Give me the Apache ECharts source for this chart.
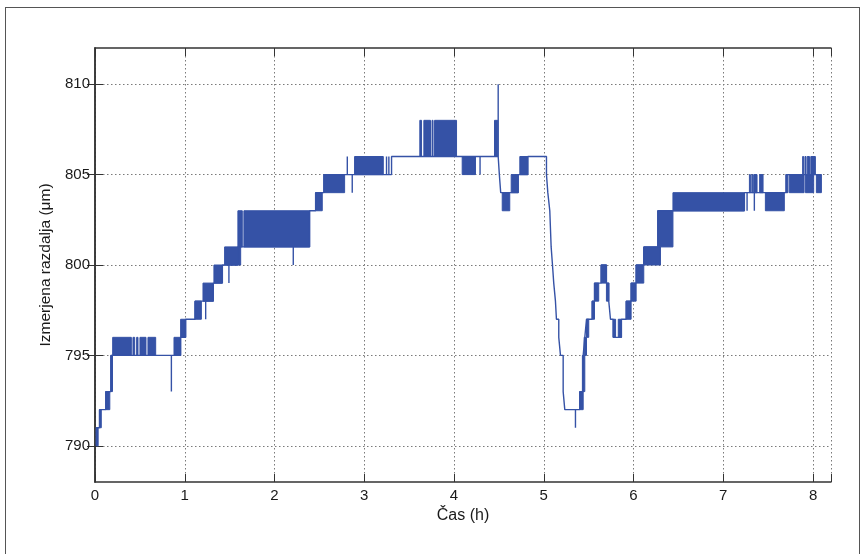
<!DOCTYPE html>
<html><head><meta charset="utf-8">
<script src="https://cdn.jsdelivr.net/npm/echarts@6/dist/echarts.min.js"></script>
<style>
html,body{margin:0;padding:0;background:#fff;}
#frame{position:absolute;left:5px;top:7px;width:855px;height:548px;border:1px solid #555;box-sizing:border-box;}
#chart{position:absolute;left:0;top:0;width:865px;height:554px;}
</style></head><body>
<div id="frame"></div><div id="chart"></div>
<script>
// ---- data ----
const xTicks = [0, 1, 2, 3, 4, 5, 6, 7, 8];
const yTicks = [790, 795, 800, 805, 810];
const xTitle = 'Čas (h)';
const yTitle = 'Izmerjena razdalja (μm)';

// step trace of the measurement: [time (h), distance (µm)]
const tracePoints = [
  [0.015,790],[0.015,791],[0.05,791],[0.05,792],[0.12,792],[0.12,793],[0.178,793],[0.178,795],
  [0.851,795],[0.851,793],[0.851,795],
  [0.954,795],[0.954,796],[1.01,796],[1.01,797],[1.114,797],[1.114,798],
  [1.233,798],[1.233,797],[1.233,798],
  [1.318,798],[1.318,799],[1.419,799],[1.419,800],
  [1.492,800],[1.492,799],[1.492,800],
  [1.592,800],[1.592,801],
  [2.209,801],[2.209,800],[2.209,801],
  [2.391,801],[2.391,803],[2.458,803],[2.458,804],[2.55,804],[2.55,805],
  [2.811,805],[2.811,806],[2.811,805],
  [2.866,805],[2.866,804],[2.866,805],
  [3.248,805],[3.248,806],[3.248,805],
  [3.274,805],[3.274,806],[3.274,805],
  [3.304,805],[3.304,806],
  [4.29,806],[4.29,805],[4.29,806],
  [4.492,806],[4.492,810],[4.492,806],[4.505,806],[4.505,805],[4.52,805],[4.52,804],
  [4.715,804],[4.715,805],[4.822,805],[4.822,806],
  [5.03,806],[5.03,805],[5.045,805],[5.045,804],[5.067,804],[5.067,803],[5.082,803],[5.082,801],
  [5.097,801],[5.097,800],[5.111,800],[5.111,799],[5.13,799],[5.13,798],[5.141,798],[5.141,797],
  [5.167,797],[5.167,796],[5.186,796],[5.186,795],[5.216,795],[5.216,793],[5.234,793],[5.234,792],
  [5.353,792],[5.353,791],[5.353,792],
  [5.401,792],[5.401,793],[5.439,793],[5.439,795],[5.457,795],[5.457,796],[5.476,796],[5.476,797],
  [5.539,797],[5.539,798],[5.565,798],[5.565,799],[5.639,799],[5.639,800],[5.698,800],[5.698,799],
  [5.724,799],[5.724,798],[5.743,798],[5.743,797],[5.773,797],[5.773,796],[5.865,796],[5.865,797],
  [5.918,797],[5.918,798],[5.973,798],[5.973,799],[6.029,799],[6.029,800],[6.114,800],[6.114,801],
  [6.27,801],[6.27,803],[7.235,803],[7.235,804],
  [7.265,804],[7.265,803],[7.265,804],
  [7.346,804],[7.346,803],[7.346,804],
  [7.699,804],[7.699,805],[8.093,805]
];

// fast toggling between two levels, seen as filled bands: [from h, to h, low µm, high µm]
const bands = [
  [0.015,0.035,790,791],[0.05,0.07,791,792],[0.12,0.165,792,793],[0.175,0.195,793,795],
  [0.197,0.405,795,796],[0.423,0.442,795,796],[0.464,0.479,795,796],[0.501,0.568,795,796],[0.59,0.676,795,796],
  [0.88,0.954,795,796],[0.954,1.01,796,797],[1.114,1.185,797,798],[1.203,1.318,798,799],
  [1.325,1.419,799,800],[1.444,1.623,800,801],[1.592,1.641,801,803],[1.659,2.391,801,803],
  [2.458,2.532,803,804],[2.55,2.781,804,805],[2.892,3.212,805,806],
  [3.619,3.638,806,808],[3.664,3.738,806,808],[3.755,3.765,806,808],[3.783,4.028,806,808],
  [4.091,4.239,805,806],[4.451,4.488,806,808],
  [4.537,4.621,803,804],[4.637,4.715,804,805],[4.733,4.822,805,806],
  [5.401,5.439,792,793],[5.43,5.457,793,795],[5.45,5.476,795,796],[5.476,5.501,796,797],
  [5.539,5.565,797,798],[5.565,5.612,798,799],[5.639,5.698,799,800],[5.698,5.724,798,799],
  [5.773,5.8,796,797],[5.83,5.865,796,797],
  [5.918,5.973,797,798],[5.973,6.029,798,799],[6.029,6.114,799,800],[6.114,6.3,800,801],
  [6.27,6.439,801,803],[6.439,7.235,803,804],
  [7.291,7.3,804,805],[7.318,7.326,804,805],[7.339,7.376,804,805],[7.405,7.443,804,805],
  [7.469,7.68,803,804],
  [7.699,7.72,804,805],[7.735,7.9,804,805],[7.915,8.007,804,805],
  [7.884,7.892,805,806],[7.91,7.918,805,806],[7.935,7.96,805,806],[7.975,8.026,805,806],
  [8.037,8.093,804,805]
];

// ---- chart ----
const BLUE = '#3552a6';
const AXIS = '#333';
const TEXT = '#1a1a1a';
const FONT = 'Liberation Sans';
const chart = echarts.init(document.getElementById('chart'), null, {renderer: 'canvas'});

const gridLine = {show: true, lineStyle: {color: '#7a7a7a', type: [1.5, 2.5], width: 1}};
const tickIn = {show: true, inside: true, length: 8, lineStyle: {color: AXIS, width: 1}};
const axLine = {show: true, lineStyle: {color: AXIS, width: 1.5}};

chart.setOption({
  animation: false,
  backgroundColor: 'transparent',
  grid: {left: 95, right: 34, top: 48, bottom: 72, containLabel: false},
  xAxis: [
    {type: 'value', min: 0, max: 8.2, interval: 1, position: 'bottom',
     name: xTitle, nameLocation: 'middle', nameGap: 15,
     nameTextStyle: {fontFamily: FONT, fontSize: 16, color: TEXT},
     axisLine: axLine, axisTick: tickIn, splitLine: gridLine,
     axisLabel: {show: true, margin: 6, fontFamily: FONT, fontSize: 15, color: TEXT,
       customValues: xTicks}},
    {type: 'value', min: 0, max: 8.2, interval: 1, position: 'top',
     axisLine: axLine, axisTick: tickIn, splitLine: {show: false}, axisLabel: {show: false}}
  ],
  yAxis: [
    {type: 'value', min: 788, max: 812, position: 'left',
     name: yTitle, nameLocation: 'middle', nameGap: 34, nameRotate: 90,
     nameTextStyle: {fontFamily: FONT, fontSize: 15.5, color: TEXT},
     axisLine: axLine,
     axisTick: Object.assign({}, tickIn, {customValues: yTicks}),
     splitLine: gridLine,
     axisLabel: {show: true, margin: 5, fontFamily: FONT, fontSize: 15, color: TEXT, customValues: yTicks}},
    {type: 'value', min: 788, max: 812, position: 'right',
     axisLine: axLine,
     axisTick: Object.assign({}, tickIn, {customValues: yTicks}),
     splitLine: {show: false}, axisLabel: {show: false, customValues: yTicks}}
  ],
  series: [
    {type: 'custom', name: 'bands', xAxisIndex: 0, yAxisIndex: 0, z: 3,
     data: bands, encode: {x: [0, 1], y: [2, 3]}, clip: true,
     renderItem: function (params, api) {
       const p0 = api.coord([api.value(0), api.value(3)]);
       const p1 = api.coord([api.value(1), api.value(2)]);
       return {type: 'rect',
         shape: {x: p0[0], y: p0[1], width: Math.max(p1[0] - p0[0], 1), height: p1[1] - p0[1]},
         style: {fill: BLUE, stroke: BLUE, lineWidth: 1}};
     }},
    {type: 'line', name: 'trace', xAxisIndex: 0, yAxisIndex: 0, z: 4,
     data: tracePoints, showSymbol: false, symbol: 'none',
     lineStyle: {color: BLUE, width: 1.4}}
  ]
});
</script></body></html>
